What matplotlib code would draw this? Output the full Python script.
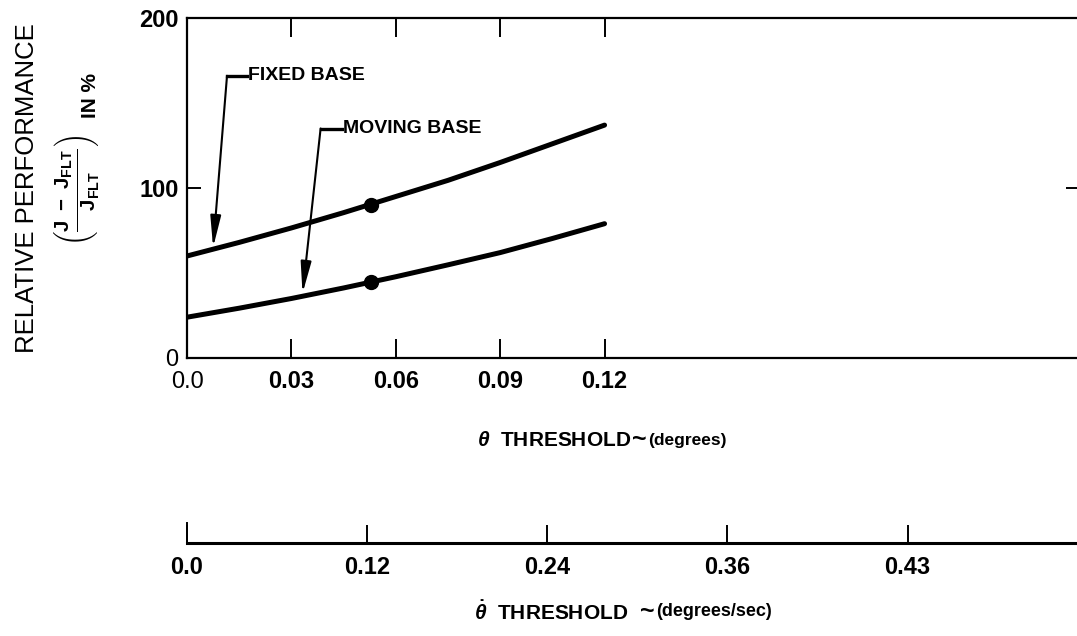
import numpy as np
import matplotlib.pyplot as plt

plt.rcParams['font.family'] = ['Liberation Sans', 'DejaVu Sans']
plt.rcParams['mathtext.fontset'] = 'custom'
plt.rcParams['mathtext.rm'] = 'Liberation Sans:bold'
plt.rcParams['mathtext.bf'] = 'Liberation Sans:bold'
plt.rcParams['mathtext.it'] = 'Liberation Sans:bold:italic'

# data
theta = [0.0, 0.015, 0.03, 0.045, 0.06, 0.075, 0.09, 0.105, 0.12]
fixed_base = [60, 68, 76.5, 85.5, 95, 104.5, 115, 126, 137]
moving_base = [24, 29.3, 35, 41.2, 47.8, 54.8, 62, 70.3, 79]
dot_theta = [0.053, 0.053]
dot_perf = [90, 44.7]

theta_ticks = [0.0, 0.03, 0.06, 0.09, 0.12]
theta_labels = ['0.0', '0.03', '0.06', '0.09', '0.12']
perf_ticks = [0, 100, 200]
rate_labels = ['0.0', '0.12', '0.24', '0.36', '0.43']

W, H = 1077, 636
fig = plt.figure(figsize=(W / 100, H / 100), dpi=100)
renderer = fig.canvas.get_renderer()

# main axes
ax = fig.add_axes([187 / W, 278 / H, 1 - 187 / W + 0.003, 340 / H])
for perf in (fixed_base, moving_base):
    ax.plot(theta, perf, color='black', lw=3.6,
            solid_capstyle='round', solid_joinstyle='round')
ax.plot(dot_theta, dot_perf, 'o', color='black', ms=10, ls='none')

ax.set_xlim(0, 0.2567)
ax.set_ylim(0, 200)
ax.set_xticks(theta_ticks)
ax.set_xticklabels(theta_labels, fontsize=17, fontweight='bold')
ax.set_yticks(perf_ticks)
ax.set_yticklabels([str(v) for v in perf_ticks], fontsize=17, fontweight='bold')
ax.get_xticklabels()[0].set_fontweight('normal')
ax.get_yticklabels()[0].set_fontweight('normal')
ax.tick_params(axis='x', direction='in', length=14, width=1.4, top=True, pad=9)
ax.tick_params(axis='y', direction='in', length=10, width=1.4, right=True, pad=6)
for s in ax.spines.values():
    s.set_linewidth(1.6)

# leader arrows
def leader(text, tip, elbow, tx):
    ax.plot([elbow[0], tx], [elbow[1], elbow[1]], color='black', lw=2.4)
    ax.annotate('', xy=tip, xytext=elbow,
                arrowprops=dict(arrowstyle='-|>,head_length=1.9,head_width=0.32',
                                color='black', lw=1.5, shrinkA=0, shrinkB=0))
    ax.text(tx + 0.0003, elbow[1], text, fontsize=14, fontweight='bold',
            va='center', ha='left')

leader('FIXED BASE', (0.0075, 65), (0.0115, 166), 0.0171)
leader('MOVING BASE', (0.0332, 38), (0.0384, 135), 0.0445)

# y label
fig.text(27 / W, 1 - 188 / H, 'RELATIVE PERFORMANCE', rotation=90,
         fontsize=18.5, ha='center', va='center')
fig.text(78 / W, 1 - 190 / H,
         r'$\left(\frac{\mathbf{J\ -\ J_{FLT}}}{\mathbf{J_{FLT}}}\right)$',
         rotation=90, fontsize=21, ha='center', va='center')
fig.text(90 / W, 1 - 96 / H, 'IN %', rotation=90, fontsize=15,
         fontweight='bold', ha='center', va='center')


# axis titles: pieces set one after another, each starting where the last ends
def chain(x0, y0, pieces):
    x = x0
    for s, size, gap in pieces:
        t = fig.text(x / W, 1 - y0 / H, s, fontsize=size, fontweight='bold',
                     ha='left', va='center')
        x = t.get_window_extent(renderer).x1 + gap


chain(477, 440, [(r'$\theta$  THRESHOLD', 15, 1),
                 ('~', 18, 1),
                 ('(degrees)', 12.5, 0)])

# secondary rate axis
ax2 = fig.add_axes([187 / W, 93 / H, 1 - 187 / W + 0.003, 20 / H])
ax2.set_xlim(0, 0.595)
ax2.set_ylim(0, 1)
ax2.set_xticks(np.arange(len(rate_labels)) * 0.12)
ax2.set_xticklabels(rate_labels, fontsize=17, fontweight='bold')
ax2.set_yticks([])
ax2.tick_params(axis='x', direction='in', length=13, width=1.4, pad=9)
ax2.spines['top'].set_visible(False)
ax2.spines['right'].set_visible(False)
ax2.spines['bottom'].set_linewidth(2.2)
ax2.spines['left'].set_linewidth(1.4)
ax2.patch.set_alpha(0)

chain(474, 612, [(r'$\dot{\theta}$  THRESHOLD', 15, 12),
                 ('~', 18, 1),
                 ('(degrees/sec)', 13, 0)])

fig.savefig('out.png', dpi=100)
